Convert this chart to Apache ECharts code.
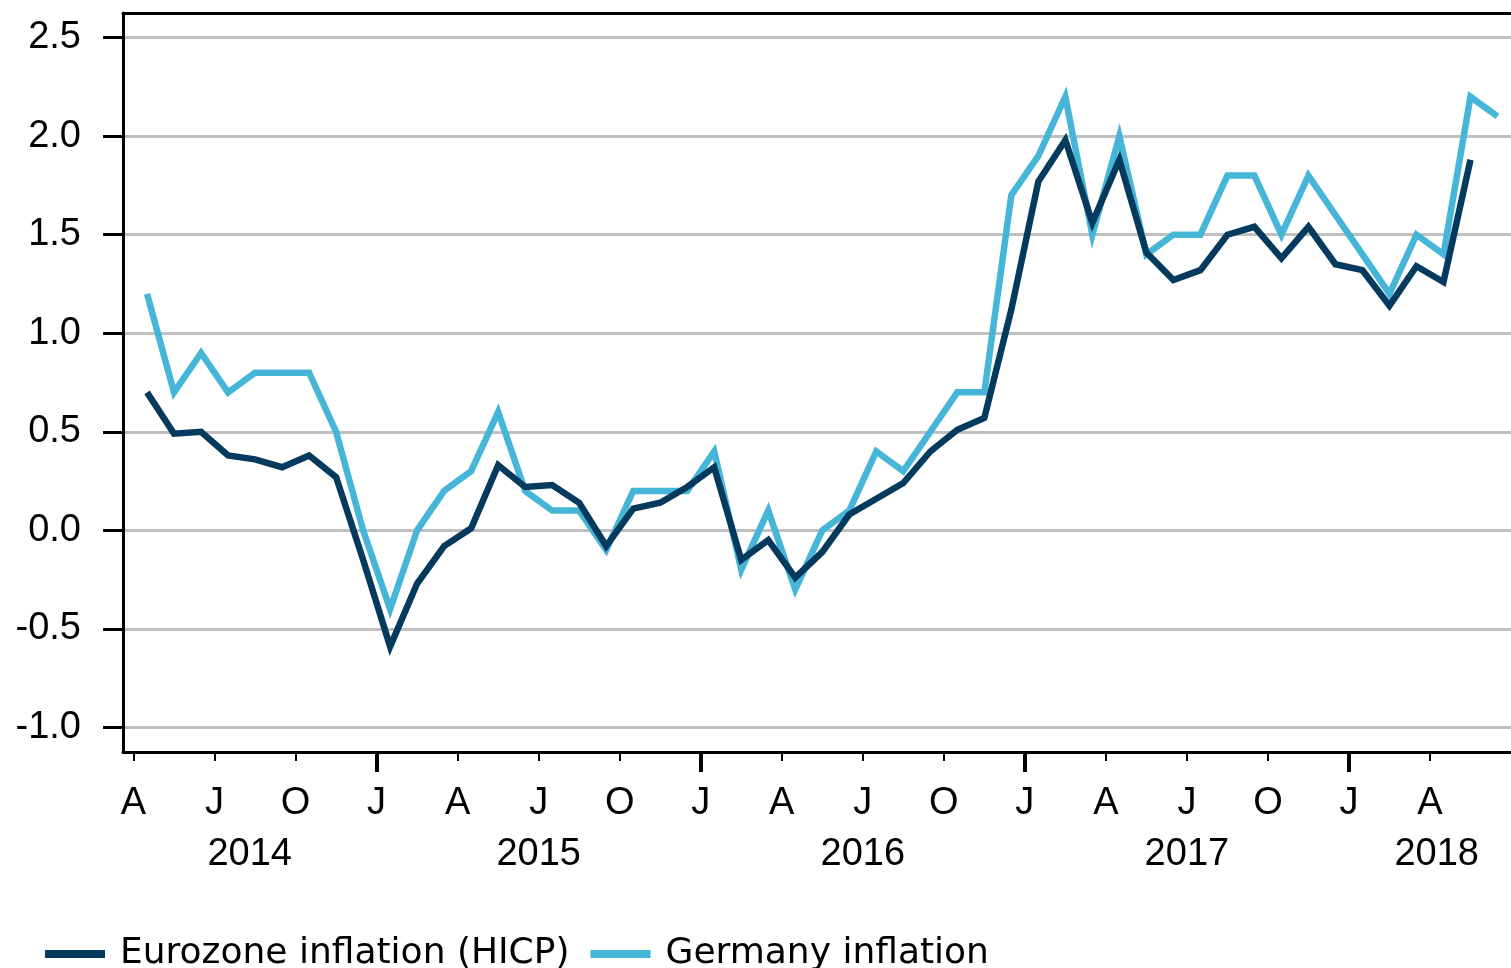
<!DOCTYPE html>
<html>
<head>
<meta charset="utf-8">
<script src="https://cdn.jsdelivr.net/npm/echarts@6/dist/echarts.min.js"></script>
<style>
html, body { margin: 0; padding: 0; background: #fff; }
#chart { width: 1511px; height: 968px; }
</style>
</head>
<body>
<div id="chart"></div>
<script>
// monthly values, first point = April 2014 (Eurozone to May 2018, Germany to June 2018)
var eurozone = [0.70, 0.49, 0.50, 0.38, 0.36, 0.32, 0.38, 0.27, -0.15,
  -0.59, -0.27, -0.08, 0.01, 0.33, 0.22, 0.23, 0.14, -0.08, 0.11, 0.14, 0.22,
  0.32, -0.15, -0.05, -0.24, -0.11, 0.08, 0.16, 0.24, 0.40, 0.51, 0.57, 1.12,
  1.77, 1.98, 1.56, 1.88, 1.41, 1.27, 1.32, 1.50, 1.54, 1.38, 1.54, 1.35,
  1.32, 1.14, 1.34, 1.26, 1.88];
var germany = [1.2, 0.7, 0.9, 0.7, 0.8, 0.8, 0.8, 0.5, 0.0,
  -0.4, 0.0, 0.2, 0.3, 0.6, 0.2, 0.1, 0.1, -0.1, 0.2, 0.2, 0.2,
  0.4, -0.2, 0.1, -0.3, 0.0, 0.1, 0.4, 0.3, 0.5, 0.7, 0.7, 1.7,
  1.9, 2.2, 1.5, 2.0, 1.4, 1.5, 1.5, 1.8, 1.8, 1.5, 1.8, 1.6,
  1.4, 1.2, 1.5, 1.4, 2.2, 2.1];

// x axis is months counted from the start of April 2014
var quarterTicks = [0, 3, 6, 9, 12, 15, 18, 21, 24, 27, 30, 33, 36, 39, 42, 45, 48];
var quarterLabels = ['A', 'J', 'O', 'J', 'A', 'J', 'O', 'J', 'A', 'J', 'O', 'J', 'A', 'J', 'O', 'J', 'A'];
var janTicks = [9, 21, 33, 45];
var yearPos = [4.3, 15, 27, 39, 48.25];
var yearLabels = ['2014', '2015', '2016', '2017', '2018'];
var yTicks = [-1.0, -0.5, 0.0, 0.5, 1.0, 1.5, 2.0, 2.5];

function toPoints(vals) {
  var out = [];
  for (var i = 0; i < vals.length; i++) {
    out.push([i + 0.5, vals[i]]);
  }
  return out;
}

var font = "'Liberation Sans', Arial, sans-serif";
var xMin = -0.39, xMax = 51;

var chart = echarts.init(document.getElementById('chart'));
chart.setOption({
  animation: false,
  backgroundColor: '#fff',
  grid: { left: 123, right: 0, top: 13, bottom: 216, containLabel: false },
  legend: {
    left: 45,
    top: 936,
    padding: 0,
    itemGap: 21,
    itemWidth: 60,
    itemHeight: 8,
    icon: 'rect',
    textStyle: { fontFamily: "'DejaVu Sans', sans-serif", fontSize: 36, color: '#000', padding: [0, 0, 0, 10] },
    data: ['Eurozone inflation (HICP)', 'Germany inflation']
  },
  xAxis: [
    {
      type: 'value', position: 'bottom', min: xMin, max: xMax,
      axisLine: { show: true, onZero: false, lineStyle: { color: '#000', width: 3 } },
      axisTick: { show: true, customValues: quarterTicks, length: 9, lineStyle: { color: '#000', width: 2 } },
      axisLabel: {
        customValues: quarterTicks, margin: 33, fontSize: 38, fontFamily: font, color: '#000',
        formatter: function (v) { return quarterLabels[quarterTicks.indexOf(v)]; }
      },
      splitLine: { show: false }
    },
    {
      type: 'value', position: 'bottom', min: xMin, max: xMax,
      axisLine: { show: false, onZero: false },
      axisTick: { show: true, customValues: janTicks, length: 20, lineStyle: { color: '#000', width: 4 } },
      axisLabel: { show: false },
      splitLine: { show: false }
    },
    {
      type: 'value', position: 'bottom', min: xMin, max: xMax,
      axisLine: { show: false, onZero: false },
      axisTick: { show: false },
      axisLabel: {
        customValues: yearPos, margin: 84, fontSize: 38, fontFamily: font, color: '#000',
        formatter: function (v) { return yearLabels[yearPos.indexOf(v)]; }
      },
      splitLine: { show: false }
    },
    {
      type: 'value', position: 'top', min: xMin, max: xMax,
      axisLine: { show: true, onZero: false, lineStyle: { color: '#000', width: 3 } },
      axisTick: { show: false },
      axisLabel: { show: false },
      splitLine: { show: false }
    }
  ],
  yAxis: {
    type: 'value', min: -1.125, max: 2.625,
    axisLine: { show: true, onZero: false, lineStyle: { color: '#000', width: 3 } },
    axisTick: { show: true, customValues: yTicks, length: 20, lineStyle: { color: '#000', width: 3 } },
    axisLabel: {
      customValues: yTicks, margin: 42, fontSize: 38, fontFamily: font, color: '#000',
      formatter: function (v) { return v.toFixed(1); }
    },
    splitLine: { show: true, lineStyle: { color: '#c0c0c0', width: 3 } }
  },
  series: [
    {
      name: 'Eurozone inflation (HICP)',
      type: 'line',
      z: 3,
      symbol: 'none',
      color: '#053a5f',
      lineStyle: { width: 6.5, color: '#053a5f', join: 'miter', cap: 'butt' },
      data: toPoints(eurozone)
    },
    {
      name: 'Germany inflation',
      type: 'line',
      z: 2,
      symbol: 'none',
      color: '#45b5d8',
      lineStyle: { width: 6.5, color: '#45b5d8', join: 'miter', cap: 'butt' },
      data: toPoints(germany)
    }
  ]
});
</script>
</body>
</html>
